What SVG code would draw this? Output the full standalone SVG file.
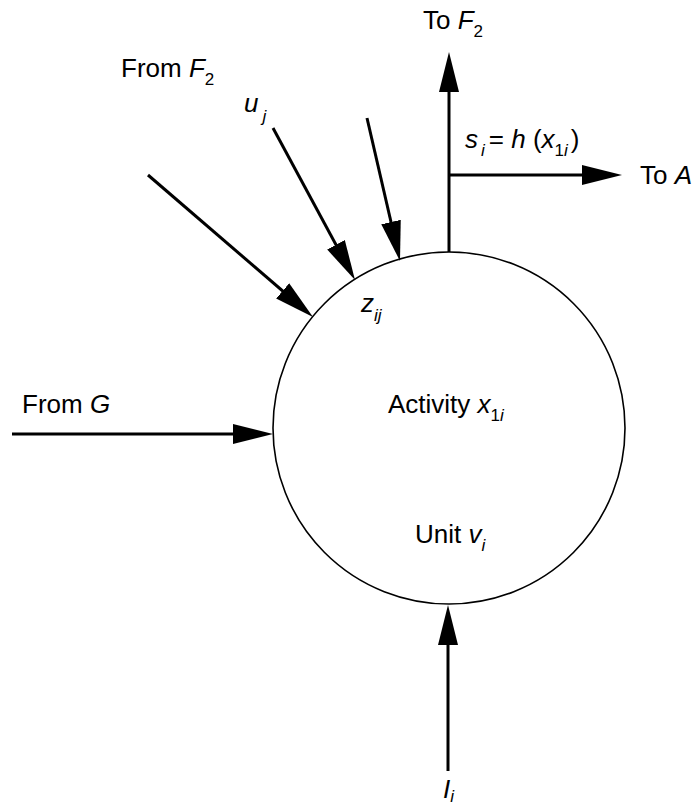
<svg xmlns="http://www.w3.org/2000/svg" width="696" height="811" viewBox="0 0 696 811">
<style>
text{font-family:"Liberation Sans",Arial,sans-serif;font-size:26px;fill:#000}
.i{font-style:italic}
.s{font-size:17px}
.n{font-style:normal}
.c{fill:none;stroke:#000;stroke-width:3}
</style>
<defs>
<marker id="ah" markerUnits="userSpaceOnUse" markerWidth="42" markerHeight="22" viewBox="0 -11 42 22" refX="20" refY="0" orient="auto">
<path d="M0,-10 L40,0 L0,10 z" fill="#000"/>
</marker>
</defs>
<rect width="696" height="811" fill="#fff"/>
<g id="unit">
<circle cx="449" cy="428" r="176" fill="none" stroke="#000" stroke-width="1.6"/>
<text x="388" y="413">Activity <tspan class="i">x</tspan><tspan class="s" dy="8">1<tspan class="i">i</tspan></tspan></text>
<text x="415" y="543">Unit <tspan class="i">v</tspan><tspan class="s i" dy="8">i</tspan></text>
<text x="361" y="312" class="i">z<tspan class="s" dy="9">ij</tspan></text>
</g>
<g id="connectors">
<line class="c" x1="148" y1="175" x2="297.8" y2="304" marker-end="url(#ah)"/>
<line class="c" x1="273" y1="128" x2="345.5" y2="262.4" marker-end="url(#ah)"/>
<line class="c" x1="367" y1="118" x2="395.5" y2="241.5" marker-end="url(#ah)"/>
<line class="c" x1="12" y1="434" x2="253" y2="434" marker-end="url(#ah)"/>
<line class="c" x1="448" y1="771" x2="448" y2="625" marker-end="url(#ah)"/>
<line class="c" x1="449" y1="252" x2="449" y2="72" marker-end="url(#ah)"/>
<line class="c" x1="449" y1="175" x2="602" y2="175" marker-end="url(#ah)"/>
</g>
<g id="labels">
<text x="121" y="77">From <tspan class="i">F</tspan><tspan class="s" dy="8">2</tspan></text>
<text x="244" y="112" class="i">u<tspan class="s" dy="10" dx="4">j</tspan></text>
<text x="22" y="413">From <tspan class="i">G</tspan></text>
<text x="423" y="29">To <tspan class="i">F</tspan><tspan class="s" dy="8">2</tspan></text>
<text x="465" y="148" class="i">s<tspan class="s" dy="8" dx="3">i</tspan><tspan class="n" dy="-8" dx="4">= </tspan>h<tspan class="n"> (</tspan>x<tspan class="s n" dy="8">1</tspan><tspan class="s">i</tspan><tspan class="n" dy="-8" dx="3">)</tspan></text>
<text x="640" y="184">To <tspan class="i">A</tspan></text>
<text x="443" y="798" class="i">I<tspan class="s" dy="4">i</tspan></text>
</g>
</svg>
